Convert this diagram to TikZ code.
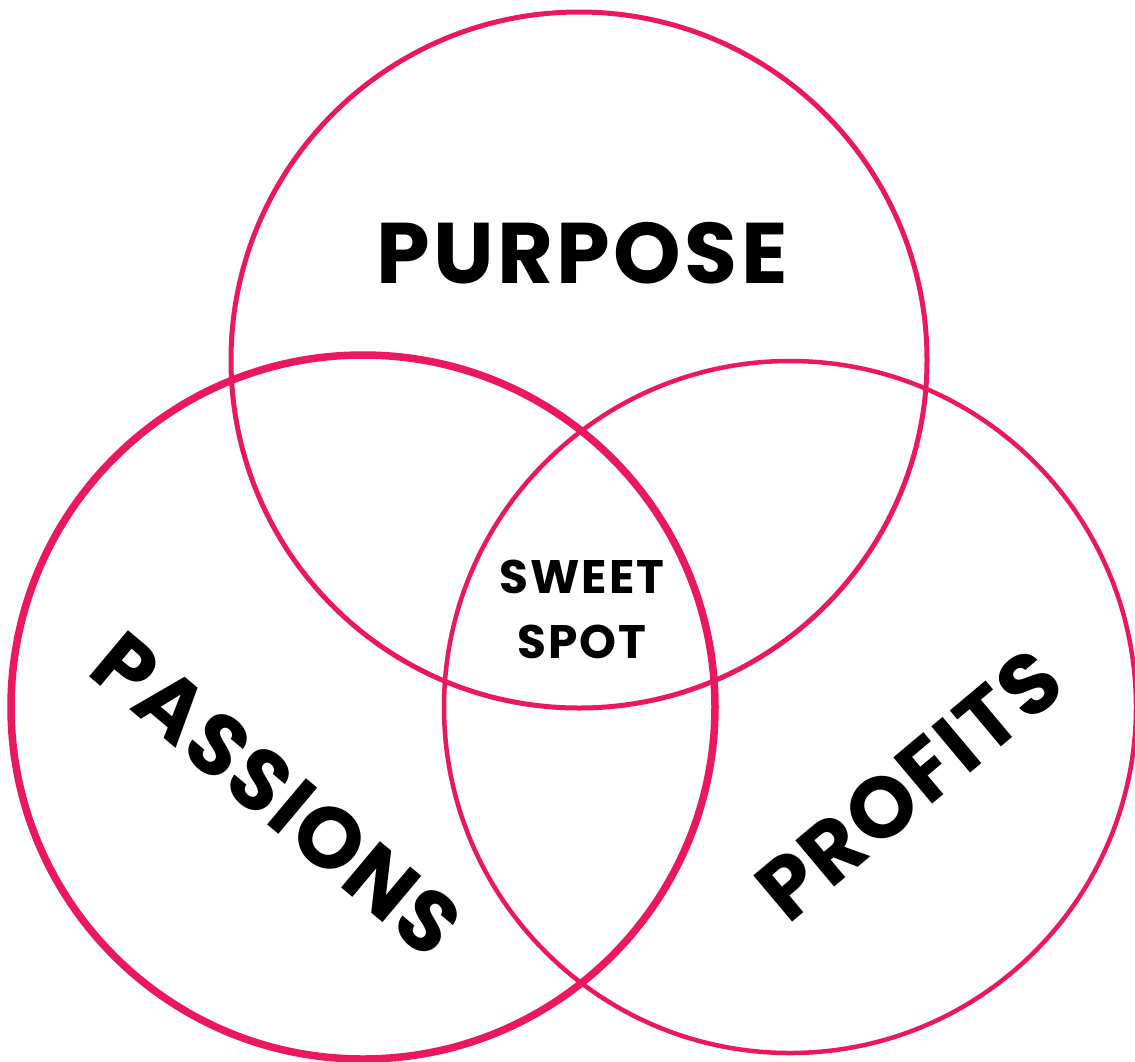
\documentclass[tikz,border=0pt]{standalone}
\usepackage{fontspec}
\setmainfont{Poppins}
\newfontfamily\vennfont{Poppins}[LetterSpace=4]
\newfontfamily\tiltfont{Poppins}[LetterSpace=2.5]
\definecolor{vennpink}{RGB}{236,24,94}

\begin{document}
\begin{tikzpicture}[x=1pt, y=-1pt,
            ring/.style = {circle, draw=vennpink, inner sep=0pt},
            bigword/.style = {font=\vennfont\fontsize{86}{86}\selectfont\bfseries},
            tiltword/.style = {font=\tiltfont\fontsize{86}{86}\selectfont\bfseries},
            smallword/.style = {font=\vennfont\fontsize{47}{65}\selectfont\bfseries,
                align=center}]

        \useasboundingbox (0,0) rectangle (1135,1061);

        % Circle Purpose
        \node (purpose) [ring, line width=5pt,
            minimum size=696pt] at (579,360) {};

        % Circle Passions
        \node (passions) [ring, line width=7.5pt,
            minimum size=704pt] at (363,707) {};

        % Circle Profits
        \node (profits) [ring, line width=4.5pt,
            minimum size=692pt] at (790,707) {};

        % Labels
        \node (purposetext) [bigword] at (582,253) {PURPOSE};
        \node (passionstext) [tiltword, rotate=-40] at (277,794) {PASSIONS};
        \node (profitstext) [tiltword, rotate=40] at (909,785) {PROFITS};
        \node (sweetspot) [smallword] at (582,609) {SWEET\\SPOT};

\end{tikzpicture}
\end{document}
